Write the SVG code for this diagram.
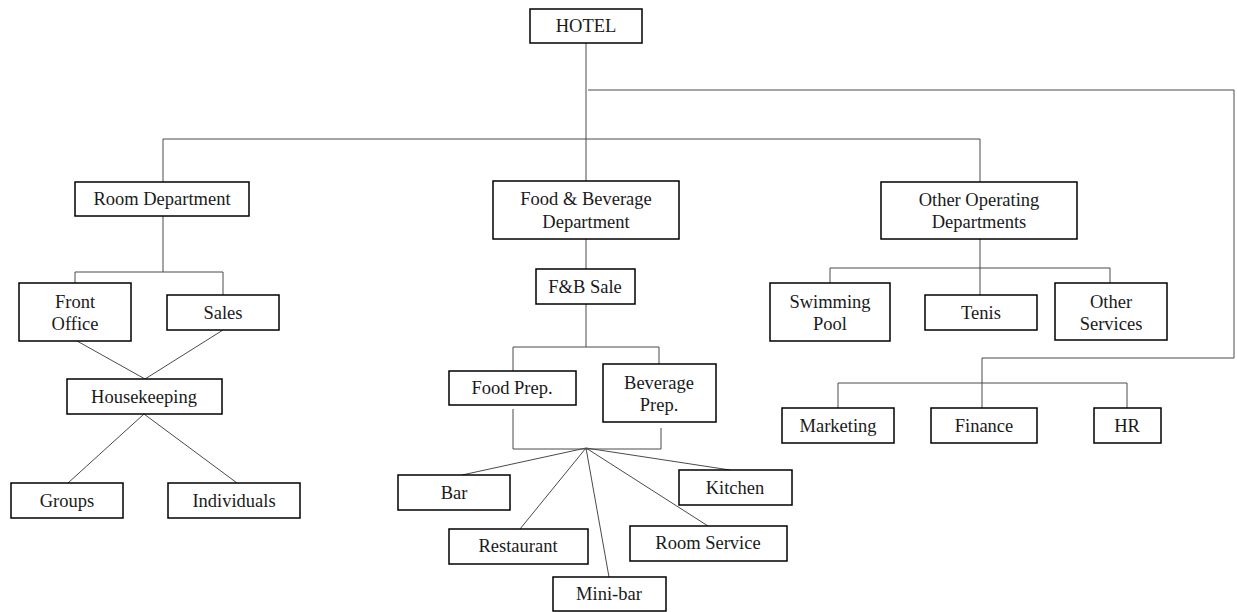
<svg xmlns="http://www.w3.org/2000/svg" width="1237" height="612" viewBox="0 0 1237 612">
<style>
.b{fill:#fff;stroke:#000;stroke-width:1.5}
.t{font-family:"Liberation Serif","Times New Roman",serif;font-size:18.5px;fill:#1a1a1a;text-anchor:middle;dominant-baseline:central}
.c{fill:none;stroke:#4a4a4a;stroke-width:1}
</style>
<rect width="1237" height="612" fill="#fff"/>
<g id="connectors">
<polyline class="c" points="586,43 586,181"/>
<polyline class="c" points="588,90 1234,90 1234,358 982,358 982,408"/>
<polyline class="c" points="163,182 163,139 980,139 980,182"/>
<polyline class="c" points="163,216 163,272"/>
<polyline class="c" points="75,283 75,272 223,272 223,295"/>
<line class="c" x1="77" y1="341" x2="145" y2="379"/>
<line class="c" x1="223" y1="330" x2="145" y2="379"/>
<line class="c" x1="144" y1="414" x2="68" y2="483"/>
<line class="c" x1="144" y1="414" x2="237" y2="483"/>
<polyline class="c" points="586,239 586,269"/>
<polyline class="c" points="586,304 586,347"/>
<polyline class="c" points="513,371 513,347 659,347 659,364"/>
<polyline class="c" points="513,409 513,449 661,449 661,428"/>
<line class="c" x1="586" y1="448" x2="462" y2="475"/>
<line class="c" x1="586" y1="448" x2="520" y2="529"/>
<line class="c" x1="586" y1="448" x2="609" y2="577"/>
<line class="c" x1="586" y1="448" x2="708" y2="526"/>
<line class="c" x1="586" y1="448" x2="730" y2="470"/>
<polyline class="c" points="980,239 980,295"/>
<polyline class="c" points="830,283 830,268 1110,268 1110,283"/>
<polyline class="c" points="838,408 838,383 1127,383 1127,408"/>
</g>
<g id="hotel"><rect class="b" x="530" y="9" width="112" height="34"/><text class="t" x="586" y="26">HOTEL</text></g>
<g id="room-dept"><rect class="b" x="75" y="182" width="174" height="34"/><text class="t" x="162" y="199">Room Department</text></g>
<g id="fb-dept"><rect class="b" x="493" y="181" width="186" height="58"/><text class="t" x="586" y="199">Food &amp; Beverage</text><text class="t" x="586" y="222">Department</text></g>
<g id="other-dept"><rect class="b" x="881" y="182" width="196" height="57"/><text class="t" x="979" y="200">Other Operating</text><text class="t" x="979" y="222">Departments</text></g>
<g id="front-office"><rect class="b" x="19" y="283" width="112" height="58"/><text class="t" x="75" y="302">Front</text><text class="t" x="75" y="324">Office</text></g>
<g id="sales"><rect class="b" x="167" y="295" width="112" height="35"/><text class="t" x="223" y="313">Sales</text></g>
<g id="housekeeping"><rect class="b" x="67" y="379" width="155" height="35"/><text class="t" x="144" y="397">Housekeeping</text></g>
<g id="groups"><rect class="b" x="11" y="483" width="112" height="35"/><text class="t" x="67" y="501">Groups</text></g>
<g id="individuals"><rect class="b" x="168" y="483" width="132" height="35"/><text class="t" x="234" y="501">Individuals</text></g>
<g id="fb-sale"><rect class="b" x="536" y="269" width="99" height="35"/><text class="t" x="585" y="287">F&amp;B Sale</text></g>
<g id="food-prep"><rect class="b" x="449" y="371" width="127" height="34"/><text class="t" x="512" y="388">Food Prep.</text></g>
<g id="beverage-prep"><rect class="b" x="603" y="364" width="113" height="58"/><text class="t" x="659" y="383">Beverage</text><text class="t" x="659" y="405">Prep.</text></g>
<g id="bar"><rect class="b" x="398" y="475" width="112" height="35"/><text class="t" x="454" y="493">Bar</text></g>
<g id="restaurant"><rect class="b" x="449" y="529" width="139" height="35"/><text class="t" x="518" y="546">Restaurant</text></g>
<g id="mini-bar"><rect class="b" x="553" y="577" width="113" height="34"/><text class="t" x="609" y="594">Mini-bar</text></g>
<g id="room-service"><rect class="b" x="630" y="526" width="157" height="35"/><text class="t" x="708" y="543">Room Service</text></g>
<g id="kitchen"><rect class="b" x="679" y="470" width="113" height="35"/><text class="t" x="735" y="488">Kitchen</text></g>
<g id="swimming-pool"><rect class="b" x="770" y="283" width="120" height="58"/><text class="t" x="830" y="302">Swimming</text><text class="t" x="830" y="324">Pool</text></g>
<g id="tenis"><rect class="b" x="925" y="295" width="112" height="35"/><text class="t" x="981" y="313">Tenis</text></g>
<g id="other-services"><rect class="b" x="1055" y="283" width="112" height="57"/><text class="t" x="1111" y="302">Other</text><text class="t" x="1111" y="324">Services</text></g>
<g id="marketing"><rect class="b" x="782" y="408" width="112" height="35"/><text class="t" x="838" y="426">Marketing</text></g>
<g id="finance"><rect class="b" x="931" y="408" width="106" height="35"/><text class="t" x="984" y="426">Finance</text></g>
<g id="hr"><rect class="b" x="1094" y="408" width="67" height="35"/><text class="t" x="1127" y="426">HR</text></g>
</svg>
